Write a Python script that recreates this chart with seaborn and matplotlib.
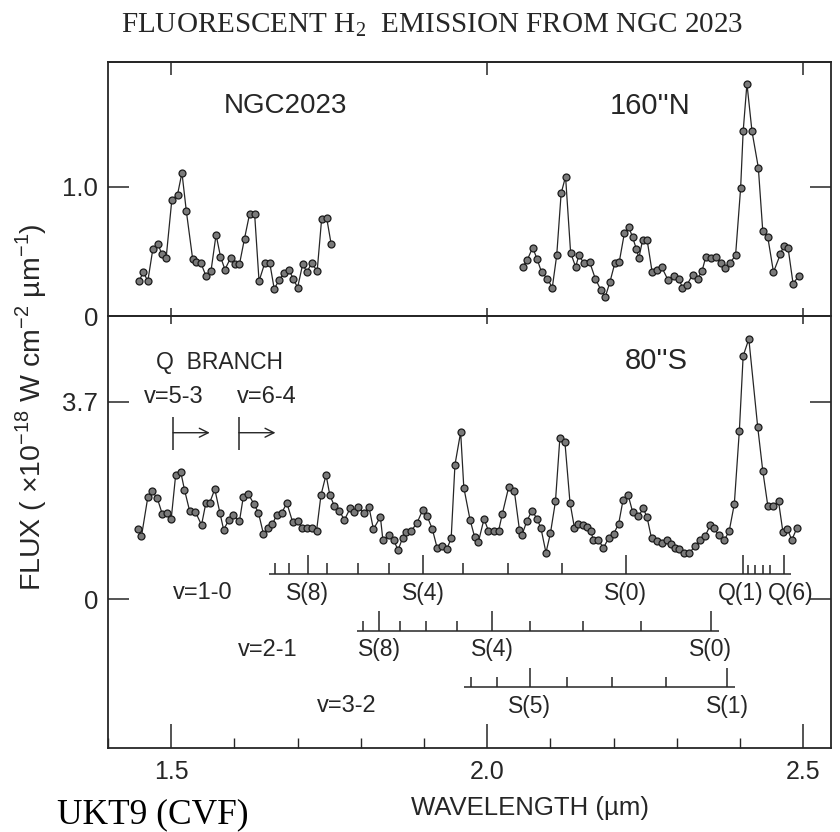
import matplotlib
matplotlib.use("Agg")
import matplotlib.pyplot as plt
from matplotlib.ticker import MultipleLocator
import pandas as pd
import seaborn as sns

# ---------------- data ----------------
# Upper panel: 160"N spectrum, two CVF segments (micron, 1e-18 W cm-2 um-1)
wl_top_a = [1.449, 1.456, 1.463, 1.471, 1.479, 1.485, 1.492, 1.501, 1.510, 1.517,
            1.524, 1.534, 1.540, 1.547, 1.555, 1.563, 1.571, 1.578, 1.585, 1.594,
            1.601, 1.608, 1.616, 1.624, 1.632, 1.639, 1.648, 1.656, 1.663, 1.671,
            1.678, 1.686, 1.693, 1.700, 1.708, 1.715, 1.722, 1.731, 1.738, 1.746,
            1.753]
flux_top_a = [0.27, 0.34, 0.27, 0.52, 0.56, 0.48, 0.45, 0.90, 0.94, 1.11,
              0.81, 0.44, 0.42, 0.41, 0.31, 0.35, 0.63, 0.46, 0.36, 0.45,
              0.40, 0.40, 0.60, 0.79, 0.79, 0.27, 0.41, 0.41, 0.21, 0.28,
              0.33, 0.36, 0.29, 0.22, 0.40, 0.34, 0.41, 0.35, 0.75, 0.76,
              0.56]
wl_top_b = [2.056, 2.063, 2.072, 2.079, 2.086, 2.095, 2.103, 2.110, 2.117, 2.124,
            2.132, 2.140, 2.145, 2.153, 2.162, 2.171, 2.180, 2.187, 2.194, 2.202,
            2.209, 2.217, 2.224, 2.230, 2.236, 2.240, 2.246, 2.253, 2.261, 2.269,
            2.276, 2.286, 2.295, 2.303, 2.309, 2.316, 2.325, 2.333, 2.340, 2.346,
            2.354, 2.362, 2.370, 2.377, 2.384, 2.393, 2.401, 2.405, 2.411, 2.419,
            2.429, 2.436, 2.444, 2.453, 2.464, 2.469, 2.476, 2.484, 2.493]
flux_top_b = [0.38, 0.43, 0.53, 0.44, 0.34, 0.29, 0.22, 0.47, 0.95, 1.08,
              0.49, 0.38, 0.47, 0.41, 0.42, 0.29, 0.20, 0.15, 0.26, 0.41,
              0.42, 0.64, 0.69, 0.61, 0.52, 0.45, 0.59, 0.59, 0.34, 0.36,
              0.38, 0.28, 0.31, 0.29, 0.22, 0.24, 0.32, 0.29, 0.35, 0.46,
              0.45, 0.46, 0.41, 0.37, 0.41, 0.47, 0.99, 1.43, 1.80, 1.43,
              1.15, 0.66, 0.61, 0.34, 0.48, 0.54, 0.53, 0.25, 0.31]

# Lower panel: 80"S spectrum
wl_bot = [1.447, 1.453, 1.463, 1.470, 1.478, 1.486, 1.493, 1.500, 1.507, 1.515,
          1.521, 1.529, 1.538, 1.548, 1.555, 1.561, 1.569, 1.577, 1.583, 1.591,
          1.598, 1.608, 1.614, 1.622, 1.631, 1.638, 1.646, 1.653, 1.660, 1.667,
          1.675, 1.683, 1.692, 1.700, 1.707, 1.715, 1.722, 1.730, 1.737, 1.745,
          1.751, 1.758, 1.766, 1.774, 1.783, 1.789, 1.796, 1.805, 1.813, 1.820,
          1.831, 1.835, 1.845, 1.852, 1.859, 1.866, 1.872, 1.880, 1.889, 1.898,
          1.905, 1.913, 1.921, 1.929, 1.936, 1.943, 1.949, 1.958, 1.963, 1.973,
          1.980, 1.986, 1.995, 2.002, 2.010, 2.018, 2.024, 2.034, 2.043, 2.051,
          2.055, 2.063, 2.071, 2.079, 2.085, 2.093, 2.100, 2.108, 2.115, 2.123,
          2.131, 2.138, 2.144, 2.151, 2.158, 2.164, 2.168, 2.176, 2.184, 2.192,
          2.200, 2.208, 2.215, 2.223, 2.230, 2.239, 2.247, 2.253, 2.260, 2.268,
          2.276, 2.284, 2.291, 2.297, 2.304, 2.312, 2.320, 2.329, 2.337, 2.345,
          2.353, 2.359, 2.366, 2.375, 2.383, 2.391, 2.399, 2.405, 2.414, 2.428,
          2.436, 2.444, 2.452, 2.461, 2.468, 2.475, 2.482, 2.490]
flux_bot = [1.32, 1.18, 1.91, 2.02, 1.89, 1.59, 1.61, 1.50, 2.32, 2.39,
            2.05, 1.66, 1.64, 1.39, 1.81, 1.81, 2.06, 1.62, 1.30, 1.48,
            1.58, 1.46, 1.91, 1.97, 1.78, 1.62, 1.22, 1.33, 1.40, 1.58,
            1.62, 1.80, 1.45, 1.47, 1.33, 1.33, 1.33, 1.28, 1.95, 2.33,
            1.95, 1.75, 1.66, 1.48, 1.70, 1.63, 1.72, 1.61, 1.72, 1.31,
            1.54, 1.10, 1.20, 1.10, 0.92, 1.14, 1.26, 1.28, 1.43, 1.67,
            1.55, 1.32, 0.95, 1.00, 0.93, 1.14, 2.52, 3.13, 2.09, 1.48,
            1.17, 1.07, 1.50, 1.28, 1.28, 1.28, 1.60, 2.10, 2.02, 1.30,
            1.20, 1.47, 1.66, 1.50, 1.33, 0.87, 1.23, 1.83, 3.02, 2.94,
            1.81, 1.34, 1.40, 1.39, 1.35, 1.28, 1.10, 1.10, 0.96, 1.14,
            1.22, 1.41, 1.86, 1.95, 1.64, 1.55, 1.70, 1.53, 1.14, 1.08,
            1.06, 1.10, 1.03, 0.95, 0.93, 0.86, 0.86, 1.00, 1.11, 1.18,
            1.39, 1.33, 1.20, 1.10, 1.28, 1.78, 3.16, 4.56, 4.88, 3.23,
            2.41, 1.75, 1.75, 1.83, 1.25, 1.31, 1.11, 1.33]

# H2 line ladders (micron)
names_10 = ['S(10)', 'S(9)', 'S(8)', 'S(7)', 'S(6)', 'S(5)', 'S(4)', 'S(3)',
            'S(2)', 'S(1)', 'S(0)', 'Q(1)', 'Q(2)', 'Q(3)', 'Q(4)', 'Q(5)', 'Q(6)']
wl_10 = [1.665, 1.687, 1.716, 1.747, 1.796, 1.845, 1.899, 1.962,
         2.033, 2.118, 2.219, 2.405, 2.413, 2.424, 2.436, 2.448, 2.469]
names_21 = ['S(9)', 'S(8)', 'S(7)', 'S(6)', 'S(5)', 'S(4)', 'S(3)', 'S(2)', 'S(1)', 'S(0)']
wl_21 = [1.804, 1.829, 1.862, 1.903, 1.953, 2.008, 2.068, 2.152, 2.244, 2.354]
names_32 = ['S(7)', 'S(6)', 'S(5)', 'S(4)', 'S(3)', 'S(2)', 'S(1)']
wl_32 = [1.974, 2.016, 2.067, 2.126, 2.197, 2.283, 2.380]
labelled_10 = ['S(8)', 'S(4)', 'S(0)', 'Q(1)', 'Q(6)']
labelled_21 = ['S(8)', 'S(4)', 'S(0)']
labelled_32 = ['S(5)', 'S(1)']

qbranch_start = [1.503, 1.607]
qbranch_labels = ['v=5-3', 'v=6-4']

x_ticks = [1.5, 2.0, 2.5]
x_ticklabels = ['1.5', '2.0', '2.5']
y_ticks_top = [0, 1.0]
y_ticklabels_top = ['0', '1.0']
y_ticks_bot = [0, 3.7]
y_ticklabels_bot = ['0', '3.7']

# ---------------- style ----------------
sns.set_theme(style="ticks")
plt.rcParams['font.family'] = ['Liberation Sans', 'DejaVu Sans']
INK = '#262626'
plt.rcParams.update({
    'axes.edgecolor': INK, 'axes.linewidth': 1.3,
    'xtick.color': INK, 'ytick.color': INK,
    'xtick.labelcolor': INK, 'ytick.labelcolor': INK,
    'xtick.major.width': 1.1, 'ytick.major.width': 1.1,
    'xtick.minor.width': 1.0, 'text.color': INK,
})

W, H = 840, 832
fig = plt.figure(figsize=(W / 100, H / 100), dpi=100)
L, R = 108, 831
y_top, y_mid, y_bot = 61.7, 316.0, 747.7
ax_top = fig.add_axes([L / W, 1 - y_mid / H, (R - L) / W, (y_mid - y_top) / H])
ax_bot = fig.add_axes([L / W, 1 - y_bot / H, (R - L) / W, (y_bot - y_mid) / H])

line_kw = dict(color=INK, linewidth=0.9, marker='o', markersize=5.0,
               markerfacecolor='#7a7a7a', markeredgecolor='#1a1a1a',
               markeredgewidth=0.9, estimator=None, zorder=3)

df_top = pd.DataFrame({
    'wl': wl_top_a + wl_top_b,
    'flux': flux_top_a + flux_top_b,
    'seg': ['a'] * len(wl_top_a) + ['b'] * len(wl_top_b),
})
df_bot = pd.DataFrame({'wl': wl_bot, 'flux': flux_bot, 'seg': ['c'] * len(wl_bot)})

sns.lineplot(data=df_top, x='wl', y='flux', units='seg', ax=ax_top, legend=False, **line_kw)
sns.lineplot(data=df_bot, x='wl', y='flux', units='seg', ax=ax_bot, legend=False, **line_kw)

XL = (1.40, 2.544)
for ax in (ax_top, ax_bot):
    ax.set_xlim(*XL)
    ax.set_xlabel('')
    ax.set_ylabel('')
    for sp in ax.spines.values():
        sp.set_visible(True)
ax_top.set_ylim(0, 1.97)
ax_bot.set_ylim(-2.79, 5.31)

# x ticks
ax_top.set_xticks(x_ticks)
ax_top.tick_params(axis='x', direction='in', length=6, bottom=True, top=False, labelbottom=False)
sec_t = ax_top.secondary_xaxis('top')
sec_t.set_xticks(x_ticks)
sec_t.tick_params(direction='in', length=9, labeltop=False, width=1.1, color=INK)
sec_t.spines['top'].set_linewidth(1.3)

ax_bot.set_xticks(x_ticks)
ax_bot.set_xticklabels(x_ticklabels)
ax_bot.xaxis.set_minor_locator(MultipleLocator(0.1))
ax_bot.tick_params(axis='x', which='major', direction='in', length=17, labelsize=18, pad=9)
ax_bot.tick_params(axis='x', which='minor', direction='in', length=7)
sec_b = ax_bot.secondary_xaxis('top')
sec_b.set_xticks(x_ticks)
sec_b.tick_params(direction='in', length=6, labeltop=False, width=1.1, color=INK)

# y ticks
ax_top.set_yticks(y_ticks_top)
ax_top.set_yticklabels(y_ticklabels_top)
ax_bot.set_yticks(y_ticks_bot)
ax_bot.set_yticklabels(y_ticklabels_bot)
for ax in (ax_top, ax_bot):
    ax.tick_params(axis='y', direction='in', length=15, left=True, right=True,
                   labelsize=18.5, pad=7)

# panel labels
ax_top.text(1.680, 1.63, 'NGC2023', ha='center', va='center', fontsize=20)
ax_top.text(2.258, 1.63, "160''N", ha='center', va='center', fontsize=21)
ax_bot.text(2.268, 4.46, "80''S", ha='center', va='center', fontsize=21)
ax_bot.text(1.577, 4.43, 'Q  BRANCH', ha='center', va='center', fontsize=16.5)

# Q-branch markers with arrows
qb_label_x = [1.504, 1.651]
for x0, lab, lx in zip(qbranch_start, qbranch_labels, qb_label_x):
    ax_bot.text(lx, 3.79, lab, ha='center', va='center', fontsize=17)
    ax_bot.vlines(x0, 2.79, 3.42, color=INK, lw=1.1)
    ax_bot.annotate('', xy=(x0 + 0.058, 3.12), xytext=(x0, 3.12),
                    arrowprops=dict(arrowstyle='->', color=INK, lw=1.0,
                                    mutation_scale=16, shrinkA=0, shrinkB=0))


def ladder(ax, names, wls, labelled, y0, h_long, h_short, row_label, row_x,
           label_dy=-0.35, offsets=None, short_overrides=None):
    offsets = offsets or {}
    short_overrides = short_overrides or {}
    ax.hlines(y0, min(wls) - 0.01, max(wls) + 0.012, color=INK, lw=1.1)
    tops = []
    for n in names:
        if n in labelled:
            tops.append(y0 + h_long)
        else:
            tops.append(y0 + short_overrides.get(n, h_short))
    ax.vlines(wls, y0, tops, color=INK, lw=1.1)
    for n, w in zip(names, wls):
        if n in labelled:
            ax.annotate(n, xy=(w, y0 + label_dy), xytext=(offsets.get(n, 0), 0),
                        textcoords='offset points', ha='center', va='center', fontsize=16.5)
    ax.text(row_x, y0 + label_dy, row_label, ha='center', va='center', fontsize=17)


ladder(ax_bot, names_10, wl_10, labelled_10, 0.46, 0.36, 0.21, 'v=1-0', 1.550,
       offsets={'Q(1)': -2, 'Q(6)': 5},
       short_overrides={q: 0.17 for q in ['Q(2)', 'Q(3)', 'Q(4)', 'Q(5)']})
ladder(ax_bot, names_21, wl_21, labelled_21, -0.60, 0.38, 0.19, 'v=2-1', 1.653)
ladder(ax_bot, names_32, wl_32, labelled_32, -1.66, 0.36, 0.19, 'v=3-2', 1.777)

# figure texts
fig.text(432 / W, 1 - 25 / H, 'FLUORESCENT H$_\\mathregular{2}$  EMISSION FROM NGC 2023',
         family=['Liberation Serif', 'DejaVu Serif'], fontsize=21, ha='center', va='center')
fig.text(57 / W, 1 - 815 / H, 'UKT9 (CVF)', family=['Liberation Serif', 'DejaVu Serif'],
         fontsize=25.5, ha='left', va='center', color='black')
fig.text(530 / W, 1 - 808 / H, 'WAVELENGTH (µm)', fontsize=18.5, ha='center', va='center')
fig.text(31 / W, 1 - 407 / H,
         'FLUX ( ×10$^\\mathregular{-18}$ W cm$^\\mathregular{-2}$ µm$^\\mathregular{-1}$)',
         fontsize=20.5, rotation=90, ha='center', va='center')

fig.savefig('out.png', dpi=100)
